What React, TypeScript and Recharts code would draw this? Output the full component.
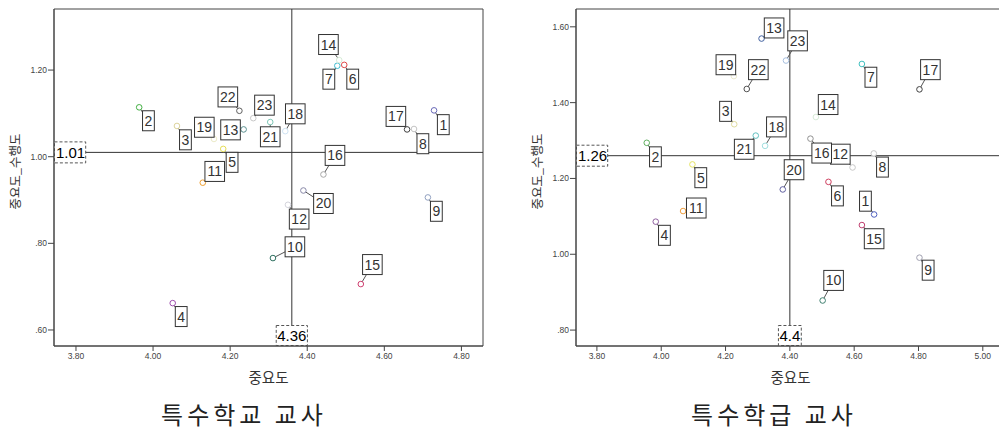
import React from 'react';
import { ScatterChart, Scatter, XAxis, YAxis, ReferenceLine, ReferenceArea } from 'recharts';

// ---- data ----
const itemIds = [1, 2, 3, 4, 5, 6, 7, 8, 9, 10, 11, 12, 13, 14, 15, 16, 17, 18, 19, 20, 21, 22, 23];

// 특수학교 교사
const schoolImportance = [4.729, 3.964, 4.062, 4.051, 4.182, 4.496, 4.478, 4.677, 4.713, 4.311, 4.129, 4.35, 4.235, 4.483, 4.539, 4.442, 4.659, 4.343, 4.158, 4.39, 4.304, 4.224, 4.26];
const schoolGap = [1.107, 1.114, 1.071, 0.662, 1.018, 1.212, 1.21, 1.064, 0.906, 0.766, 0.94, 0.889, 1.063, 1.223, 0.706, 0.959, 1.063, 1.059, 1.041, 0.922, 1.08, 1.106, 1.089];
const schoolLabelX = [4.753, 3.988, 4.084, 4.073, 4.205, 4.518, 4.456, 4.7, 4.735, 4.368, 4.16, 4.379, 4.201, 4.455, 4.569, 4.472, 4.63, 4.369, 4.133, 4.442, 4.304, 4.194, 4.289];
const schoolLabelY = [1.074, 1.083, 1.039, 0.631, 0.987, 1.179, 1.179, 1.03, 0.874, 0.792, 0.966, 0.856, 1.062, 1.259, 0.751, 1.003, 1.093, 1.099, 1.068, 0.892, 1.046, 1.138, 1.119];
const schoolMeanX = 4.36;
const schoolMeanY = 1.01;
const schoolMeanXText = '4.36';
const schoolMeanYText = '1.01';
const schoolXTicks = [3.8, 4.0, 4.2, 4.4, 4.6, 4.8];
const schoolYTicks = [0.6, 0.8, 1.0, 1.2];
const schoolXDomain = [3.743, 4.856];
const schoolYDomain = [0.563, 1.341];

// 특수학급 교사
const classImportance = [4.662, 3.955, 4.227, 3.983, 4.097, 4.52, 4.624, 4.661, 4.803, 4.502, 4.068, 4.595, 4.312, 4.481, 4.624, 4.464, 4.803, 4.323, 4.226, 4.378, 4.294, 4.266, 4.388];
const classGap = [1.105, 1.294, 1.343, 1.086, 1.237, 1.191, 1.502, 1.266, 0.991, 0.878, 1.114, 1.229, 1.569, 1.362, 1.077, 1.305, 1.435, 1.286, 1.47, 1.171, 1.313, 1.436, 1.511];
const classLabelX = [4.635, 3.982, 4.2, 4.01, 4.123, 4.548, 4.652, 4.688, 4.83, 4.536, 4.109, 4.557, 4.351, 4.519, 4.662, 4.499, 4.837, 4.358, 4.201, 4.413, 4.258, 4.302, 4.424];
const classLabelY = [1.14, 1.257, 1.377, 1.05, 1.202, 1.154, 1.467, 1.23, 0.958, 0.931, 1.122, 1.264, 1.597, 1.395, 1.041, 1.267, 1.487, 1.336, 1.5, 1.223, 1.277, 1.487, 1.563];
const classMeanX = 4.4;
const classMeanY = 1.26;
const classMeanXText = '4.4';
const classMeanYText = '1.26';
const classXTicks = [3.8, 4.0, 4.2, 4.4, 4.6, 4.8, 5.0];
const classYTicks = [0.8, 1.0, 1.2, 1.4, 1.6];
const classXDomain = [3.735, 5.069];
const classYDomain = [0.758, 1.647];

const xAxisTitle = '중요도';
const yAxisTitle = '중요도_수행도';
const schoolTitle = '특수학교 교사';
const classTitle = '특수학급 교사';

// ---- styles ----
const schoolColors = ['#6a6ab8', '#44b044', '#ddd49c', '#a050b0', '#e6de58', '#e04848', '#40bcd0', '#c4c4c4', '#90a0c0', '#2e7060', '#f0a030', '#d4d4dc', '#5a9090', '#d8ecd8', '#d04070', '#a8a8a8', '#404040', '#cfe3f3', '#ecebc8', '#8888a8', '#80c8b8', '#606060', '#c8c8c8'];
const classColors = ['#5060c0', '#60b060', '#e0dca0', '#9060a0', '#e6e460', '#d04060', '#40c0c0', '#c8c8c8', '#a0a0b0', '#408070', '#f0a040', '#c8c8c8', '#4060a0', '#d8ecd8', '#c04070', '#909090', '#404040', '#a0dede', '#ecebd0', '#6060a0', '#60c0c0', '#505050', '#a8c0e0'];

const FONT = "Arial, 'Liberation Sans', sans-serif";
const KFONT = "'Noto Sans CJK KR', 'Noto Sans', sans-serif";
const AX = '#444';

const fmtTick = (v: number) => {
  const s = v.toFixed(2);
  return s.startsWith('0') ? s.slice(1) : s;
};

const PointShape = (props: any) => {
  const { cx, cy, payload } = props;
  if (cx == null || cy == null) return <g />;
  return <circle cx={cx} cy={cy} r={2.8} fill="#fff" stroke={payload.color} strokeWidth={1} />;
};

const LabelShape = (props: any) => {
  const { cx, cy, payload } = props;
  if (cx == null || cy == null) return <g />;
  const t = String(payload.id);
  const w = t.length * 7.8 + 4;
  const h = 20;
  return (
    <g>
      <rect x={cx - w / 2} y={cy - h / 2} width={w} height={h} fill="#fff" stroke="#333" strokeWidth={1} />
      <text x={cx} y={cy + 5} textAnchor="middle" fontSize={14} fill="#333" fontFamily={FONT}>
        {t}
      </text>
    </g>
  );
};

const meanTextWidth = (t: string) => {
  let w = 0;
  for (const c of t) w += c === '.' ? 4.17 : 8.34;
  return w;
};

const VMeanLabel = (text: string) => (props: any) => {
  const vb = props.viewBox || {};
  const w = meanTextWidth(text) + 2;
  const h = 20;
  const bottom = vb.y + vb.height;
  return (
    <g>
      <rect x={vb.x - w / 2} y={bottom - h - 0.5} width={w} height={h} fill="#fff" stroke="#555" strokeDasharray="3 2" />
      <text x={vb.x} y={bottom - 5} textAnchor="middle" fontSize={15} fill="#000" fontFamily={FONT}>
        {text}
      </text>
    </g>
  );
};

const HMeanLabel = (text: string) => (props: any) => {
  const vb = props.viewBox || {};
  const w = meanTextWidth(text) + 2;
  const h = 21;
  return (
    <g>
      <rect x={vb.x + 0.5} y={vb.y - h / 2} width={w} height={h} fill="#fff" stroke="#555" strokeDasharray="3 2" />
      <text x={vb.x + 1 + w / 2} y={vb.y + 5.5} textAnchor="middle" fontSize={15} fill="#000" fontFamily={FONT}>
        {text}
      </text>
    </g>
  );
};

const XTitle = (props: any) => {
  const vb = props.viewBox || {};
  return (
    <text x={vb.x + vb.width / 2} y={vb.y + 37} textAnchor="middle" fontSize={14.5} fill="#333" fontFamily={KFONT}>
      {xAxisTitle}
    </text>
  );
};

const YTitle = (props: any) => {
  const vb = props.viewBox || {};
  const x = 15;
  const y = vb.y + vb.height / 2 - 6;
  return (
    <text x={x} y={y} transform={`rotate(-90 ${x} ${y})`} dy={4.5} textAnchor="middle" fontSize={12.5} fill="#333" fontFamily={KFONT}>
      {yAxisTitle}
    </text>
  );
};

type PanelProps = {
  xs: number[];
  ys: number[];
  lxs: number[];
  lys: number[];
  colors: string[];
  meanX: number;
  meanY: number;
  meanXText: string;
  meanYText: string;
  xTicks: number[];
  yTicks: number[];
  xDomain: number[];
  yDomain: number[];
};

const Panel = (p: PanelProps) => {
  const points = itemIds.map((id, i) => ({ id, x: p.xs[i], y: p.ys[i], color: p.colors[i] }));
  const labels = itemIds.map((id, i) => ({ id, x: p.lxs[i], y: p.lys[i] }));
  return (
    <ScatterChart width={500} height={432} margin={{ top: 9, right: 17, left: 0, bottom: 0 }}>
      <XAxis
        type="number"
        dataKey="x"
        domain={p.xDomain as any}
        ticks={p.xTicks}
        allowDataOverflow
        interval={0}
        tickFormatter={fmtTick}
        height={86}
        tickSize={5}
        tickMargin={2}
        stroke={AX}
        tick={{ fontSize: 8.5, fill: '#444', fontFamily: FONT }}
        label={XTitle}
      />
      <YAxis
        type="number"
        dataKey="y"
        domain={p.yDomain as any}
        ticks={p.yTicks}
        allowDataOverflow
        interval={0}
        tickFormatter={fmtTick}
        width={54}
        tickSize={6}
        tickMargin={1}
        stroke={AX}
        tick={{ fontSize: 8.5, fill: '#444', fontFamily: FONT }}
        label={YTitle}
      />
      <ReferenceArea
        x1={p.xDomain[0]}
        x2={p.xDomain[1]}
        y1={p.yDomain[0]}
        y2={p.yDomain[1]}
        fill="none"
        stroke={AX}
        strokeWidth={1}
        ifOverflow="visible"
      />
      <ReferenceLine x={p.meanX} stroke="#333" strokeWidth={1} label={VMeanLabel(p.meanXText)} />
      <ReferenceLine y={p.meanY} stroke="#333" strokeWidth={1} label={HMeanLabel(p.meanYText)} />
      {points.map((d, i) => (
        <ReferenceLine
          key={'ld' + d.id}
          segment={[
            { x: d.x, y: d.y },
            { x: labels[i].x, y: labels[i].y },
          ]}
          stroke="#555"
          strokeWidth={1}
          ifOverflow="visible"
        />
      ))}
      <Scatter data={points} shape={PointShape} isAnimationActive={false} />
      <Scatter data={labels} shape={LabelShape} isAnimationActive={false} />
    </ScatterChart>
  );
};

const titleStyle: React.CSSProperties = {
  position: 'absolute',
  top: 401,
  width: 240,
  textAlign: 'center',
  fontFamily: KFONT,
  fontSize: 24,
  lineHeight: '26px',
  letterSpacing: 4,
  color: '#222',
  whiteSpace: 'nowrap',
};

export default function App() {
  return (
    <div style={{ position: 'absolute', left: 0, top: 0, width: 999, height: 432, overflow: 'hidden', background: '#fff' }}>
      <div style={{ position: 'absolute', left: 0, top: 0 }}>
        <Panel
          xs={schoolImportance}
          ys={schoolGap}
          lxs={schoolLabelX}
          lys={schoolLabelY}
          colors={schoolColors}
          meanX={schoolMeanX}
          meanY={schoolMeanY}
          meanXText={schoolMeanXText}
          meanYText={schoolMeanYText}
          xTicks={schoolXTicks}
          yTicks={schoolYTicks}
          xDomain={schoolXDomain}
          yDomain={schoolYDomain}
        />
      </div>
      <div style={{ position: 'absolute', left: 522, top: 0 }}>
        <Panel
          xs={classImportance}
          ys={classGap}
          lxs={classLabelX}
          lys={classLabelY}
          colors={classColors}
          meanX={classMeanX}
          meanY={classMeanY}
          meanXText={classMeanXText}
          meanYText={classMeanYText}
          xTicks={classXTicks}
          yTicks={classYTicks}
          xDomain={classXDomain}
          yDomain={classYDomain}
        />
      </div>
      <div style={{ ...titleStyle, left: 124 }}>{schoolTitle}</div>
      <div style={{ ...titleStyle, left: 654 }}>{classTitle}</div>
    </div>
  );
}
